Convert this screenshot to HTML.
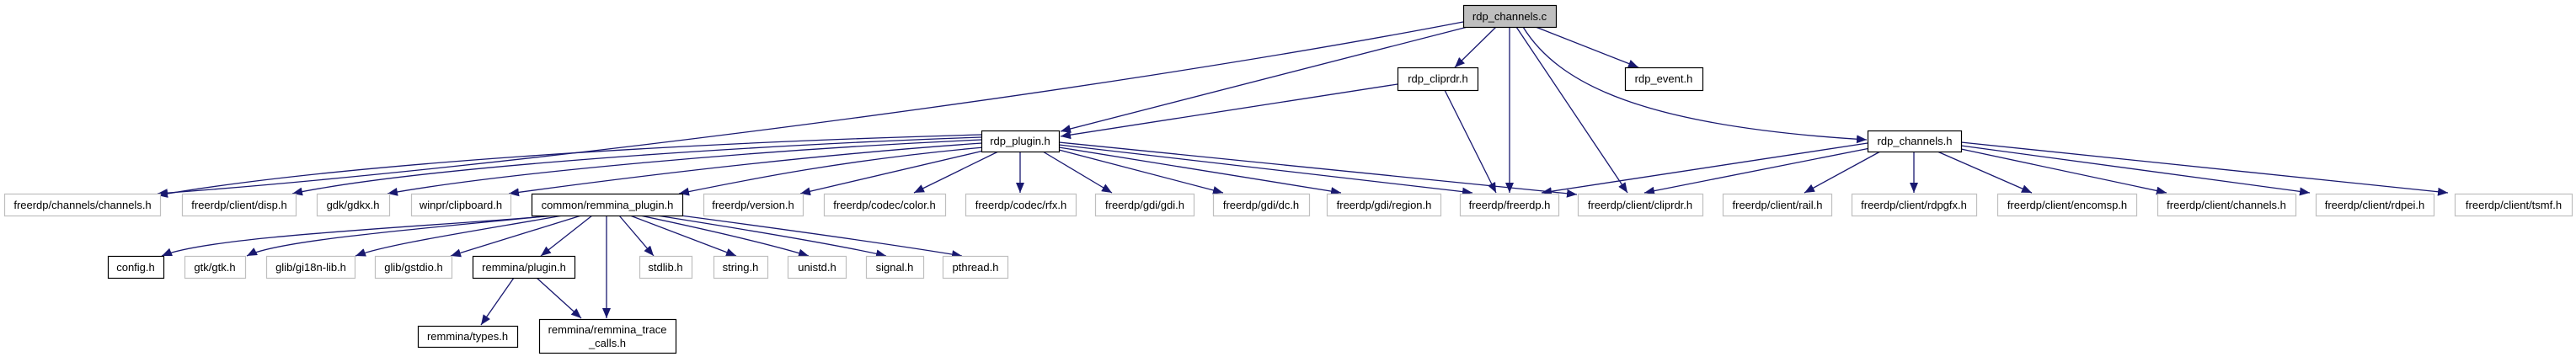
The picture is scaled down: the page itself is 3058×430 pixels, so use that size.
<!DOCTYPE html>
<html><head><meta charset="utf-8"><style>
html,body{margin:0;padding:0;background:#fff;}
svg text{font-family:"Liberation Sans",Arial,sans-serif;font-size:13px;fill:#000;}
</style></head><body>
<svg width="3058" height="425" viewBox="0 0 3058 425" xmlns="http://www.w3.org/2000/svg">
<defs><marker id="a" markerUnits="userSpaceOnUse" markerWidth="13" markerHeight="10" refX="12" refY="5" orient="auto"><path d="M0,0 L12,5 L0,10 z" fill="#191970"/></marker></defs>
<g fill="none" stroke="#191970" stroke-width="1.3" marker-end="url(#a)">
<path d="M1737,26 C1300,110 600,200 187,230"/>
<path d="M1742,32 L1259,156"/>
<path d="M1776,32 L1727,80"/>
<path d="M1792,32 L1792,229"/>
<path d="M1800,32 L1932,229"/>
<path d="M1823,32 L1945,80"/>
<path d="M1808,32 C1850,100 1950,150 2216,166"/>
<path d="M1659,100 L1259,162"/>
<path d="M1715,107 L1776,229"/>
<path d="M1165,160 C800,170 400,195 187,232"/>
<path d="M1165,163 C900,172 500,198 347,230"/>
<path d="M1165,166 C900,178 600,205 460,230"/>
<path d="M1166,170 C950,185 750,210 604,230"/>
<path d="M1168,175 C1000,190 880,215 806,230"/>
<path d="M1172,178 L950,230"/>
<path d="M1185,180 L1085,229"/>
<path d="M1211,180 L1211,229"/>
<path d="M1238,180 L1320,229"/>
<path d="M1257,178 L1452,229"/>
<path d="M1257,175 L1592,229"/>
<path d="M1257,172 L1748,229"/>
<path d="M1257,169 L1872,231"/>
<path d="M2217,170 L1830,229"/>
<path d="M2220,176 L1952,229"/>
<path d="M2232,180 L2142,229"/>
<path d="M2272,180 L2272,229"/>
<path d="M2300,180 L2412,229"/>
<path d="M2328,177 L2572,229"/>
<path d="M2328,173 L2742,229"/>
<path d="M2328,169 L2906,229"/>
<path d="M660,256 C500,270 250,280 192,304"/>
<path d="M655,256 C500,272 330,285 293,304"/>
<path d="M668,256 C560,275 460,290 422,304"/>
<path d="M690,256 L535,304"/>
<path d="M703,256 L642,304"/>
<path d="M720,256 L720,378"/>
<path d="M735,256 L776,304"/>
<path d="M748,256 L874,304"/>
<path d="M760,256 C850,275 920,292 960,304"/>
<path d="M780,256 C900,275 1000,292 1052,304"/>
<path d="M808,256 C950,275 1070,292 1142,304"/>
<path d="M610,330 L571,386"/>
<path d="M637,330 L690,378"/>
</g>
<g stroke-width="1.2">
<rect x="1737.5" y="6.5" width="110" height="26" fill="#bfbfbf" stroke="#000"/>
<rect x="1659.5" y="80.5" width="95" height="27" fill="#fff" stroke="#000"/>
<rect x="1929.5" y="80.5" width="92" height="27" fill="#fff" stroke="#000"/>
<rect x="1165.5" y="155.5" width="92" height="25" fill="#fff" stroke="#000"/>
<rect x="2217.5" y="155.5" width="111" height="25" fill="#fff" stroke="#000"/>
<rect x="631.5" y="230.5" width="179" height="26" fill="#fff" stroke="#000"/>
<rect x="128.5" y="304.5" width="66" height="26" fill="#fff" stroke="#000"/>
<rect x="561.5" y="304.5" width="121" height="26" fill="#fff" stroke="#000"/>
<rect x="496.5" y="387.5" width="118" height="25" fill="#fff" stroke="#000"/>
<rect x="640.5" y="379.5" width="162" height="40" fill="#fff" stroke="#000"/>
</g>
<g fill="#fff" stroke="#bfbfbf" stroke-width="1.2">
<rect x="5.5" y="230.5" width="185" height="26"/>
<rect x="216.5" y="230.5" width="135" height="26"/>
<rect x="376.5" y="230.5" width="86" height="26"/>
<rect x="488.5" y="230.5" width="118" height="26"/>
<rect x="835.5" y="230.5" width="118" height="26"/>
<rect x="978.5" y="230.5" width="144" height="26"/>
<rect x="1146.5" y="230.5" width="131" height="26"/>
<rect x="1300.5" y="230.5" width="117" height="26"/>
<rect x="1440.5" y="230.5" width="114" height="26"/>
<rect x="1575.5" y="230.5" width="135" height="26"/>
<rect x="1733.5" y="230.5" width="117" height="26"/>
<rect x="1873.5" y="230.5" width="148" height="26"/>
<rect x="2045.5" y="230.5" width="129" height="26"/>
<rect x="2198.5" y="230.5" width="148" height="26"/>
<rect x="2371.5" y="230.5" width="165" height="26"/>
<rect x="2561.5" y="230.5" width="164" height="26"/>
<rect x="2749.5" y="230.5" width="140" height="26"/>
<rect x="2914.5" y="230.5" width="139" height="26"/>
<rect x="219.5" y="304.5" width="72" height="26"/>
<rect x="316.5" y="304.5" width="105" height="26"/>
<rect x="445.5" y="304.5" width="91" height="26"/>
<rect x="759.5" y="304.5" width="62" height="26"/>
<rect x="847.5" y="304.5" width="64" height="26"/>
<rect x="935.5" y="304.5" width="69" height="26"/>
<rect x="1028.5" y="304.5" width="68" height="26"/>
<rect x="1119.5" y="304.5" width="77" height="26"/>
</g>
<g text-anchor="middle">
<text x="1792" y="24">rdp_channels.c</text>
<text x="1707" y="98">rdp_cliprdr.h</text>
<text x="1975" y="98">rdp_event.h</text>
<text x="1211" y="172">rdp_plugin.h</text>
<text x="2273" y="172">rdp_channels.h</text>
<text x="98" y="248">freerdp/channels/channels.h</text>
<text x="284" y="248">freerdp/client/disp.h</text>
<text x="419" y="248">gdk/gdkx.h</text>
<text x="547" y="248">winpr/clipboard.h</text>
<text x="721" y="248">common/remmina_plugin.h</text>
<text x="894" y="248">freerdp/version.h</text>
<text x="1050" y="248">freerdp/codec/color.h</text>
<text x="1212" y="248">freerdp/codec/rfx.h</text>
<text x="1359" y="248">freerdp/gdi/gdi.h</text>
<text x="1497" y="248">freerdp/gdi/dc.h</text>
<text x="1643" y="248">freerdp/gdi/region.h</text>
<text x="1792" y="248">freerdp/freerdp.h</text>
<text x="1947" y="248">freerdp/client/cliprdr.h</text>
<text x="2110" y="248">freerdp/client/rail.h</text>
<text x="2272" y="248">freerdp/client/rdpgfx.h</text>
<text x="2454" y="248">freerdp/client/encomsp.h</text>
<text x="2643" y="248">freerdp/client/channels.h</text>
<text x="2819" y="248">freerdp/client/rdpei.h</text>
<text x="2984" y="248">freerdp/client/tsmf.h</text>
<text x="161" y="322">config.h</text>
<text x="255" y="322">gtk/gtk.h</text>
<text x="369" y="322">glib/gi18n-lib.h</text>
<text x="491" y="322">glib/gstdio.h</text>
<text x="622" y="322">remmina/plugin.h</text>
<text x="790" y="322">stdlib.h</text>
<text x="879" y="322">string.h</text>
<text x="970" y="322">unistd.h</text>
<text x="1062" y="322">signal.h</text>
<text x="1158" y="322">pthread.h</text>
<text x="555" y="404">remmina/types.h</text>
<text x="721" y="396">remmina/remmina_trace</text>
<text x="721" y="412">_calls.h</text>
</g>
</svg>
</body></html>
